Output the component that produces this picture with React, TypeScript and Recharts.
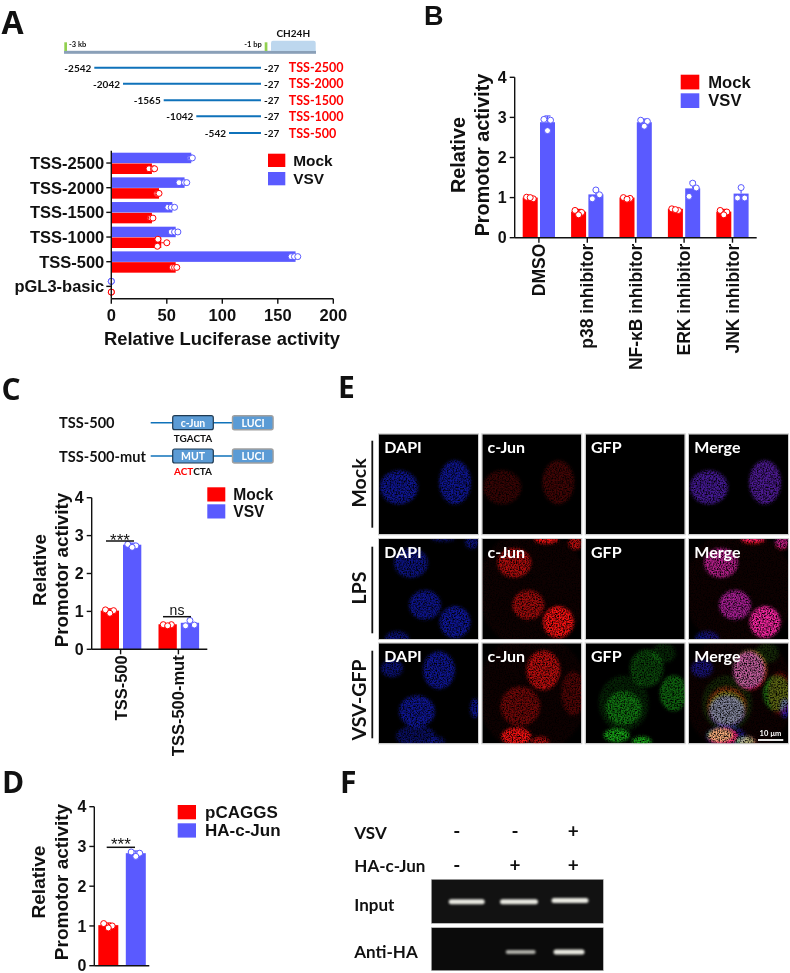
import { BarChart, Bar, XAxis, YAxis } from "recharts";

const PAGE_W = 790;
const PAGE_H = 973;
const RED = "#ff0000";
const BLUE = "#5a5aff";
const ARIAL = '"Liberation Sans", Arial, sans-serif';
const CALIBRI = 'Lato, "Open Sans", sans-serif';
const LINE_BLUE = "#0f72ba";

// Panel A
const aCategories = ["TSS-2500", "TSS-2000", "TSS-1500", "TSS-1000", "TSS-500", "pGL3-basic"];
const aMock = [36.6, 43, 36.6, 45, 58, 0];
const aVsv = [72, 66, 55, 58, 166, 0];
const aMockDots = [[34, 38, 39], [41, 42, 43], [35, 36, 37.5], [42, 41.5, 50], [55, 57, 59], [0, 0, 0]];
const aVsvDots = [[71, 72, 73], [61, 66, 68], [51, 54, 57], [54, 57, 60], [162, 165, 168], [0, 0, 0]];
const aTicks = [0, 50, 100, 150, 200];

// Panel B
const bCategories = ["DMSO", "p38 inhibitor", "NF-κB inhibitor", "ERK inhibitor", "JNK inhibitor"];
const bMock = [1.0, 0.65, 1.0, 0.72, 0.65];
const bVsv = [2.88, 1.08, 2.88, 1.23, 1.1];
const bMockDots = [[1.01, 0.97, 1.0], [0.68, 0.63, 0.57], [1.0, 0.98, 0.96], [0.72, 0.68, 0.7], [0.68, 0.64, 0.57]];
const bVsvDots = [[2.95, 2.93, 2.67], [1.19, 1.07, 0.97], [2.93, 2.9, 2.78], [1.36, 1.24, 1.03], [1.25, 0.99, 0.99]];

// Panel C
const cCategories = ["TSS-500", "TSS-500-mut"];
const cMock = [1.02, 0.66];
const cVsv = [2.76, 0.7];
const cMockDots = [[1.04, 1.02, 0.95], [0.65, 0.65, 0.62]];
const cVsvDots = [[2.77, 2.73, 2.69], [0.76, 0.64, 0.62]];

// Panel D
const dCategories = ["pCAGGS", "HA-c-Jun"];
const dValues = [1.02, 2.83];
const dDots = [[1.06, 1.0, 0.95], [2.86, 2.83, 2.75]];

const promotorTicks = [0, 1, 2, 3, 4];

// Panel A construct map
const fragmentStarts = [-2542, -2042, -1565, -1042, -542];
const fragmentNames = ["TSS-2500", "TSS-2000", "TSS-1500", "TSS-1000", "TSS-500"];

// Panel E micrographs: one list of [x, y, rx, ry, brightness] per row
type Cell = [number, number, number, number, number];
const mockDapi: Cell[] = [[20, 53, 19, 17, 0.62], [76, 48, 16, 22, 0.62]];
const mockJun: Cell[] = [[20, 53, 19, 17, 0.22], [76, 48, 16, 22, 0.26]];
const lpsDapi: Cell[] = [[32, 24, 17, 15, 0.55], [46, 66, 16, 15, 0.6], [76, 83, 15.5, 16, 0.65], [93, 3, 7, 7, 0.5], [18, 100, 12, 8, 0.5], [64, 0, 12, 3, 0.4]];
const lpsJun: Cell[] = [[32, 24, 17, 15, 0.65], [46, 66, 16, 15, 0.6], [76, 83, 15.5, 16, 0.95], [64, 1, 12, 4, 0.95], [93, 4, 7, 7, 0.7], [50, 50, 55, 60, 0.06]];
const vsvDapi: Cell[] = [[60, 27, 16, 19, 0.62], [38, 68, 18, 16, 0.62], [13, 25, 11, 9, 0.5], [96, 65, 5, 10, 0.6], [37, 93, 20, 11, 0.42], [58, 98, 8, 5, 0.4]];
const vsvJun: Cell[] = [[61, 27, 17, 20, 0.7], [38, 63, 20, 20, 0.4], [34, 93, 15, 9, 0.95], [58, 98, 9, 5, 0.6], [91, 50, 12, 22, 0.28], [50, 50, 55, 60, 0.06]];
const vsvGfp: Cell[] = [[61, 25, 17, 19, 0.35], [78, 10, 12, 10, 0.2], [38, 60, 25, 28, 0.18], [38, 65, 18, 17, 0.5], [88, 50, 14, 18, 0.5], [31, 92, 13, 7, 0.8], [56, 98, 10, 5, 0.8]];

const DAPI_COLOR = "#1622e8";
const JUN_COLOR = "#ff1212";
const GFP_COLOR = "#1cc41c";

const cellRows: { name: string; dapi: Cell[]; jun: Cell[]; gfp: Cell[] }[] = [
  { name: "Mock", dapi: mockDapi, jun: mockJun, gfp: [] },
  { name: "LPS", dapi: lpsDapi, jun: lpsJun, gfp: [] },
  { name: "VSV-GFP", dapi: vsvDapi, jun: vsvJun, gfp: vsvGfp },
];

function sd(vals: number[]) {
  const m = vals.reduce((a, b) => a + b, 0) / vals.length;
  return Math.sqrt(vals.reduce((a, b) => a + (b - m) * (b - m), 0) / (vals.length - 1));
}

// Prism style swarm: dots only shift sideways when they would sit on top of each other
function lateralOffsets(vals: number[], tol: number) {
  return vals.map((v, i) => {
    const twin = vals.findIndex((o, j) => j !== i && Math.abs(o - v) < tol);
    if (twin < 0 || v === 0) return 0;
    return i < twin ? -3.5 : 3.5;
  });
}

function swarmOffsets(vals: number[], spread: number, gap: number) {
  return vals[0] - vals[1] > gap ? [0, spread, -spread] : [-spread, spread * 0.85, 0];
}

function ReplicateBar(props: any) {
  const { x, y, width, height, index, dots, means, fill, horizontal, offsetsFor } = props;
  const vals: number[] = dots[index];
  const mean: number = means[index];
  const off: number[] = offsetsFor(vals);
  const s = sd(vals);
  const color = Array.isArray(fill) ? fill[index] : fill;
  const dotStyle = { fill: "#fff", stroke: color, strokeWidth: 1 };
  if (horizontal) {
    const unit = mean ? width / mean : 0;
    const cy = y + height / 2;
    const end = x + (mean + s) * unit;
    return (
      <g>
        {mean > 0 && <rect x={x} y={y} width={width} height={height} fill={color} />}
        {mean > 0 && <line x1={x + width} x2={end} y1={cy} y2={cy} stroke={color} strokeWidth={1} />}
        {vals.map((v, i) => <circle key={i} cx={x + v * unit} cy={cy + off[i]} r={3} {...dotStyle} />)}
      </g>
    );
  }
  const unit = mean ? height / mean : 0;
  const base = y + height;
  const cx = x + width / 2;
  const top = base - (mean + s) * unit;
  return (
    <g>
      <rect x={x} y={y} width={width} height={height} fill={color} />
      <line x1={cx} x2={cx} y1={y} y2={top} stroke={color} strokeWidth={1.2} />
      <line x1={cx - 3} x2={cx + 3} y1={top} y2={top} stroke={color} strokeWidth={1.2} />
      {vals.map((v, i) => <circle key={i} cx={cx + off[i]} cy={base - v * unit} r={3} {...dotStyle} />)}
    </g>
  );
}

const axisStroke = { stroke: "#111", strokeWidth: 1.4 };

const RotatedTick = (size: number) => (p: any) => (
  <text
    transform={`translate(${p.x},${p.y - 1}) rotate(-90)`}
    textAnchor="end"
    dominantBaseline="central"
    fontFamily={ARIAL}
    fontWeight={700}
    fontSize={size}
    fill="#111"
  >
    {p.payload.value}
  </text>
);

type Plot = { left: number; top: number; right: number; bottom: number };

const layer: React.CSSProperties = { position: "absolute", left: 0, top: 0 };

// every chart shares page coordinates: margins place the plot rectangle on the page
function marginsFor(p: Plot, yAxisW: number, xAxisH: number) {
  return {
    left: p.left - yAxisW,
    top: p.top,
    right: PAGE_W - p.right,
    bottom: PAGE_H - p.bottom - xAxisH,
  };
}

function LuciferaseChart() {
  const data = aCategories.map((c, i) => ({ name: c, mock: aMock[i], vsv: aVsv[i] }));
  const plot = { left: 111.3, top: 150.7, right: 333.3, bottom: 298.7 };
  const off = (v: number[]) => lateralOffsets(v, 1);
  return (
    <div style={layer}>
      <BarChart
        width={PAGE_W}
        height={PAGE_H}
        data={data}
        layout="vertical"
        barSize={10.5}
        barGap={0.3}
        margin={marginsFor(plot, 50, 30)}
      >
        <XAxis
          type="number"
          domain={[0, 200]}
          ticks={aTicks}
          height={30}
          tickSize={5}
          tickMargin={6}
          axisLine={axisStroke}
          tickLine={axisStroke}
          tick={{ fontFamily: ARIAL, fontWeight: 700, fontSize: 16.5, fill: "#111" }}
        />
        <YAxis
          type="category"
          dataKey="name"
          width={50}
          interval={0}
          tickSize={5}
          tickMargin={2}
          axisLine={axisStroke}
          tickLine={axisStroke}
          tick={{ fontFamily: ARIAL, fontWeight: 700, fontSize: 16.5, fill: "#111" }}
        />
        <Bar dataKey="vsv" isAnimationActive={false} shape={(p: any) => <ReplicateBar {...p} dots={aVsvDots} means={aVsv} fill={BLUE} horizontal offsetsFor={off} />} />
        <Bar dataKey="mock" isAnimationActive={false} shape={(p: any) => <ReplicateBar {...p} dots={aMockDots} means={aMock} fill={RED} horizontal offsetsFor={off} />} />
      </BarChart>
    </div>
  );
}

function PromotorChart(props: {
  categories: string[];
  mock: number[];
  vsv: number[];
  mockDots: number[][];
  vsvDots: number[][];
  plot: Plot;
  barSize: number;
  barGap: number;
  tickFont: number;
  labelFont: number;
  spread: number;
}) {
  const { categories, mock, vsv, mockDots, vsvDots, plot, barSize, barGap, tickFont, labelFont, spread } = props;
  const data = categories.map((c, i) => ({ name: c, mock: mock[i], vsv: vsv[i] }));
  const off = (v: number[]) => swarmOffsets(v, spread, 0.1);
  return (
    <div style={layer}>
      <BarChart
        width={PAGE_W}
        height={PAGE_H}
        data={data}
        barSize={barSize}
        barGap={barGap}
        margin={marginsFor(plot, 40, 130)}
      >
        <XAxis
          dataKey="name"
          height={130}
          interval={0}
          tickSize={5}
          axisLine={axisStroke}
          tickLine={axisStroke}
          tick={RotatedTick(labelFont)}
        />
        <YAxis
          type="number"
          domain={[0, 4]}
          ticks={promotorTicks}
          width={40}
          interval={0}
          tickSize={5}
          tickMargin={3}
          axisLine={axisStroke}
          tickLine={axisStroke}
          tick={{ fontFamily: ARIAL, fontWeight: 700, fontSize: tickFont, fill: "#111" }}
        />
        <Bar dataKey="mock" isAnimationActive={false} shape={(p: any) => <ReplicateBar {...p} dots={mockDots} means={mock} fill={RED} offsetsFor={off} />} />
        <Bar dataKey="vsv" isAnimationActive={false} shape={(p: any) => <ReplicateBar {...p} dots={vsvDots} means={vsv} fill={BLUE} offsetsFor={off} />} />
      </BarChart>
    </div>
  );
}

function OverexpressionChart() {
  const data = dCategories.map((c, i) => ({ name: c, value: dValues[i] }));
  const plot = { left: 94.3, top: 806.7, right: 149.3, bottom: 965.7 };
  const off = (v: number[]) => swarmOffsets(v, 4.6, 0.1);
  return (
    <div style={layer}>
      <BarChart width={PAGE_W} height={PAGE_H} data={data} barSize={20} margin={marginsFor(plot, 40, 4)}>
        <XAxis dataKey="name" height={4} tick={false} tickLine={false} axisLine={axisStroke} />
        <YAxis
          type="number"
          domain={[0, 4]}
          ticks={promotorTicks}
          width={40}
          interval={0}
          tickSize={5}
          tickMargin={3}
          axisLine={axisStroke}
          tickLine={axisStroke}
          tick={{ fontFamily: ARIAL, fontWeight: 700, fontSize: 16, fill: "#111" }}
        />
        <Bar dataKey="value" isAnimationActive={false} shape={(p: any) => <ReplicateBar {...p} dots={dDots} means={dValues} fill={[RED, BLUE]} offsetsFor={off} />} />
      </BarChart>
    </div>
  );
}

function T(p: {
  x: number;
  y: number;
  size: number;
  children: React.ReactNode;
  font?: string;
  color?: string;
  anchor?: "start" | "middle" | "end";
  rot?: boolean;
  weight?: number;
}) {
  const { x, y, size, children, font = CALIBRI, color = "#111", anchor = "start", rot, weight = 700 } = p;
  return (
    <text
      x={rot ? undefined : x}
      y={rot ? undefined : y}
      transform={rot ? `translate(${x},${y}) rotate(-90)` : undefined}
      fontFamily={font}
      fontSize={size}
      fontWeight={weight}
      fill={color}
      textAnchor={anchor}
      dominantBaseline="central"
    >
      {children}
    </text>
  );
}

function LegendPair(p: { x: number; w: number; y1: number; y2: number; h: number; textX: number; size: number; names: string[] }) {
  return (
    <g>
      <rect x={p.x} y={p.y1} width={p.w} height={p.h} fill={RED} />
      <rect x={p.x} y={p.y2} width={p.w} height={p.h} fill={BLUE} />
      <T x={p.textX} y={p.y1 + p.h / 2} size={p.size} font={ARIAL}>{p.names[0]}</T>
      <T x={p.textX} y={p.y2 + p.h / 2} size={p.size} font={ARIAL}>{p.names[1]}</T>
    </g>
  );
}

function PromotorLabels(p: { x1: number; x2: number; y: number; size: number }) {
  return (
    <g>
      <T x={p.x1} y={p.y} size={p.size} font={ARIAL} anchor="middle" rot>Relative</T>
      <T x={p.x2} y={p.y} size={p.size} font={ARIAL} anchor="middle" rot>Promotor activity</T>
    </g>
  );
}

function Sig(p: { x1: number; x2: number; y: number; label: string; labelY: number; size: number }) {
  return (
    <g>
      <line x1={p.x1} x2={p.x2} y1={p.y} y2={p.y} stroke="#111" strokeWidth={1.5} />
      <T x={(p.x1 + p.x2) / 2} y={p.labelY} size={p.size} font={ARIAL} anchor="middle" weight={400}>{p.label}</T>
    </g>
  );
}

function ConstructMap() {
  const rowYs = [67.7, 83.7, 100.3, 116.3, 133];
  const lineStarts = [94.3, 123, 163.7, 196.3, 229];
  return (
    <g>
      <rect x={64} y={50.8} width={252} height={3} fill="#8aa0b8" />
      <rect x={64.3} y={42.3} width={2.7} height={8.7} fill="#92d050" />
      <rect x={264.7} y={42.3} width={2.7} height={8.7} fill="#92d050" />
      <path d="M271 51 V43 Q271 40.7 273 40.7 H313.7 Q315.7 40.7 315.7 43 V51 Z" fill="#bdd7ee" />
      <T x={293.3} y={33} size={10} anchor="middle">CH24H</T>
      <T x={69} y={44} size={7.5}>-3 kb</T>
      <T x={244.3} y={44} size={7.5}>-1 bp</T>
      {fragmentStarts.map((s, i) => (
        <g key={s}>
          <line x1={lineStarts[i]} x2={261} y1={rowYs[i]} y2={rowYs[i]} stroke={LINE_BLUE} strokeWidth={2} />
          <T x={lineStarts[i] - 3} y={rowYs[i]} size={10} anchor="end">{s}</T>
          <T x={264} y={rowYs[i]} size={10}>-27</T>
          <T x={288.7} y={rowYs[i]} size={12.5} color={RED}>{fragmentNames[i]}</T>
        </g>
      ))}
    </g>
  );
}

function MutantMap() {
  const row = (y: number, name: string, site: string) => (
    <g>
      <T x={59} y={y} size={14.6}>{name}</T>
      <line x1={150.7} x2={233} y1={y} y2={y} stroke={LINE_BLUE} strokeWidth={1.6} />
      <rect x={172.7} y={y - 7} width={40.6} height={14} rx={2} fill="#5b9bd5" stroke="#1f3a52" strokeWidth={1.2} />
      <T x={193} y={y} size={10.5} color="#fff" anchor="middle">{site}</T>
      <rect x={232.5} y={y - 7} width={40.6} height={14} rx={2} fill="#5b9bd5" stroke="#a0a0a0" strokeWidth={1.4} />
      <T x={253} y={y} size={10.5} color="#fff" anchor="middle">LUCI</T>
    </g>
  );
  return (
    <g>
      {row(422.7, "TSS-500", "c-Jun")}
      {row(456, "TSS-500-mut", "MUT")}
      <T x={193} y={437.5} size={10} anchor="middle">TGACTA</T>
      <T x={193} y={470.7} size={10} anchor="middle">
        <tspan fill={RED}>ACT</tspan>CTA
      </T>
    </g>
  );
}

function CellLayer({ cells, color, merged }: { cells: Cell[]; color: string; merged?: boolean }) {
  return (
    <g filter="url(#speck)" style={merged ? { mixBlendMode: "screen" } : undefined}>
      {cells.map((c, i) => (
        <ellipse key={i} cx={c[0]} cy={c[1]} rx={c[2]} ry={c[3]} fill={color} opacity={c[4]} />
      ))}
    </g>
  );
}

function Micrographs() {
  const colXs = [379, 482.3, 585.7, 689];
  const rowYs = [434.3, 539, 643.3];
  const barRanges = [[440.7, 527.7], [546.7, 633.3], [650.7, 738.3]];
  const rowLabelYs = [483, 588, 700];
  const heads = ["DAPI", "c-Jun", "GFP", "Merge"];
  return (
    <g>
      {cellRows.map((r, ri) => (
        <g key={r.name}>
          <line x1={372.3} x2={372.3} y1={barRanges[ri][0]} y2={barRanges[ri][1]} stroke="#111" strokeWidth={1.8} />
          <T x={358} y={rowLabelYs[ri]} size={19.5} anchor="middle" rot>{r.name}</T>
          {colXs.map((x, ci) => (
            <g key={ci}>
              <rect x={x - 0.5} y={rowYs[ri] - 0.5} width={100} height={101} fill="none" stroke="#cfcfcf" strokeWidth={1} />
              <svg x={x} y={rowYs[ri]} width={99} height={100}>
                <rect width={99} height={100} fill="#000" />
                <g style={{ isolation: "isolate" }}>
                  {ci === 0 && <CellLayer cells={r.dapi} color={DAPI_COLOR} />}
                  {ci === 1 && <CellLayer cells={r.jun} color={JUN_COLOR} />}
                  {ci === 2 && <CellLayer cells={r.gfp} color={GFP_COLOR} />}
                  {ci === 3 && (
                    <>
                      <CellLayer cells={r.dapi} color={DAPI_COLOR} merged />
                      <CellLayer cells={r.jun} color={JUN_COLOR} merged />
                      <CellLayer cells={r.gfp} color={GFP_COLOR} merged />
                    </>
                  )}
                </g>
              </svg>
              <T x={x + 5.3} y={rowYs[ri] + 12.4} size={16} color="#fff">{heads[ci]}</T>
            </g>
          ))}
        </g>
      ))}
      <line x1={758} x2={783.3} y1={740} y2={740} stroke="#fff" strokeWidth={1.8} />
      <T x={770.5} y={733} size={7.5} color="#fff" anchor="middle">10 µm</T>
    </g>
  );
}

function Gels() {
  const signX = [456.7, 515, 573.3];
  const vsvSigns = ["-", "-", "+"];
  const junSigns = ["-", "+", "+"];
  const band = (cx: number, cy: number, w: number, h: number, o: number) => (
    <rect x={cx - w / 2} y={cy - h / 2} width={w} height={h} rx={h / 2} fill="#f4f4ec" opacity={o} filter="url(#bandBlur)" />
  );
  return (
    <g>
      <T x={354.3} y={832.7} size={17}>VSV</T>
      <T x={354.3} y={865} size={17}>HA-c-Jun</T>
      <T x={354.3} y={904} size={17}>Input</T>
      <T x={354.3} y={951} size={17}>Anti-HA</T>
      {signX.map((x, i) => (
        <g key={x}>
          <T x={x} y={830.5} size={19} anchor="middle">{vsvSigns[i]}</T>
          <T x={x} y={864.5} size={19} anchor="middle">{junSigns[i]}</T>
        </g>
      ))}
      <rect x={431.3} y={879.3} width={172} height={44} fill="#121212" stroke="#bbb" strokeWidth={0.6} />
      {band(466.7, 901.7, 36, 5, 0.95)}
      {band(519, 901.7, 38, 5, 0.95)}
      {band(570, 900.5, 37, 5, 0.95)}
      <rect x={431.3} y={927.7} width={172} height={43} fill="#0b0b0b" stroke="#bbb" strokeWidth={0.6} />
      {band(520.7, 952, 30, 4, 0.7)}
      {band(569, 952, 31, 5, 0.95)}
    </g>
  );
}

function Overlay() {
  return (
    <svg width={PAGE_W} height={PAGE_H} style={layer}>
      <defs>
        <filter id="speck" x="-10%" y="-10%" width="120%" height="120%" colorInterpolationFilters="sRGB">
          <feGaussianBlur in="SourceGraphic" stdDeviation="1.4" result="soft" />
          <feTurbulence type="fractalNoise" baseFrequency="0.7" numOctaves="2" seed="4" result="noise" />
          <feColorMatrix in="noise" type="matrix" values="0 0 0 0 1  0 0 0 0 1  0 0 0 0 1  0 0 0 2.6 -0.6" result="mask" />
          <feComposite in="soft" in2="mask" operator="in" result="grain" />
          <feGaussianBlur in="grain" stdDeviation="0.45" />
        </filter>
        <filter id="bandBlur" x="-20%" y="-80%" width="140%" height="260%">
          <feGaussianBlur stdDeviation="0.9" />
        </filter>
      </defs>

      {/* panel letters */}
      <T x={1.5} y={21} size={32} font='"Open Sans", sans-serif'>A</T>
      <T x={424} y={16} size={27} font={ARIAL}>B</T>
      <T x={1.5} y={388} size={30} font='"Open Sans", sans-serif'>C</T>
      <T x={2} y={781} size={30} font='"Open Sans", sans-serif'>D</T>
      <T x={338} y={386} size={30} font='"Open Sans", sans-serif'>E</T>
      <T x={340} y={781} size={30} font='"Open Sans", sans-serif'>F</T>

      <ConstructMap />
      <T x={222} y={338} size={18.4} font={ARIAL} anchor="middle">Relative Luciferase activity</T>
      <LegendPair x={268} w={17.3} y1={153.7} y2={172} h={13.3} textX={293.3} size={15.4} names={["Mock", "VSV"]} />

      <PromotorLabels x1={458.3} x2={481.7} y={155} size={19.8} />
      <LegendPair x={680.7} w={18.6} y1={74.7} y2={93.3} h={14.7} textX={708.3} size={16.6} names={["Mock", "VSV"]} />

      <MutantMap />
      <PromotorLabels x1={39.3} x2={61} y={570} size={18.8} />
      <LegendPair x={207.3} w={18} y1={487.3} y2={504.3} h={14.2} textX={233.3} size={15.6} names={["Mock", "VSV"]} />
      <Sig x1={106} x2={134} y={541} label="***" labelY={540} size={17} />
      <Sig x1={163} x2={191} y={616.7} label="ns" labelY={610} size={14} />

      <PromotorLabels x1={38.3} x2={61} y={882} size={19} />
      <LegendPair x={177.7} w={18.3} y1={805} y2={823.3} h={14.3} textX={205} size={17} names={dCategories} />
      <Sig x1={106.7} x2={135} y={847.3} label="***" labelY={844.5} size={17} />

      <Micrographs />
      <Gels />
    </svg>
  );
}

export default function App() {
  return (
    <div style={{ position: "absolute", left: 0, top: 0, width: PAGE_W, height: PAGE_H, overflow: "hidden", background: "#fff" }}>
      <LuciferaseChart />
      <PromotorChart
        categories={bCategories}
        mock={bMock}
        vsv={bVsv}
        mockDots={bMockDots}
        vsvDots={bVsvDots}
        plot={{ left: 514.7, top: 77.3, right: 756.7, bottom: 237.7 }}
        barSize={15}
        barGap={2.3}
        tickFont={16}
        labelFont={17.5}
        spread={3.6}
      />
      <PromotorChart
        categories={cCategories}
        mock={cMock}
        vsv={cVsv}
        mockDots={cMockDots}
        vsvDots={cVsvDots}
        plot={{ left: 91.7, top: 497.7, right: 207.3, bottom: 649.3 }}
        barSize={18.3}
        barGap={4}
        tickFont={16}
        labelFont={16.5}
        spread={4.4}
      />
      <OverexpressionChart />
      <Overlay />
    </div>
  );
}
